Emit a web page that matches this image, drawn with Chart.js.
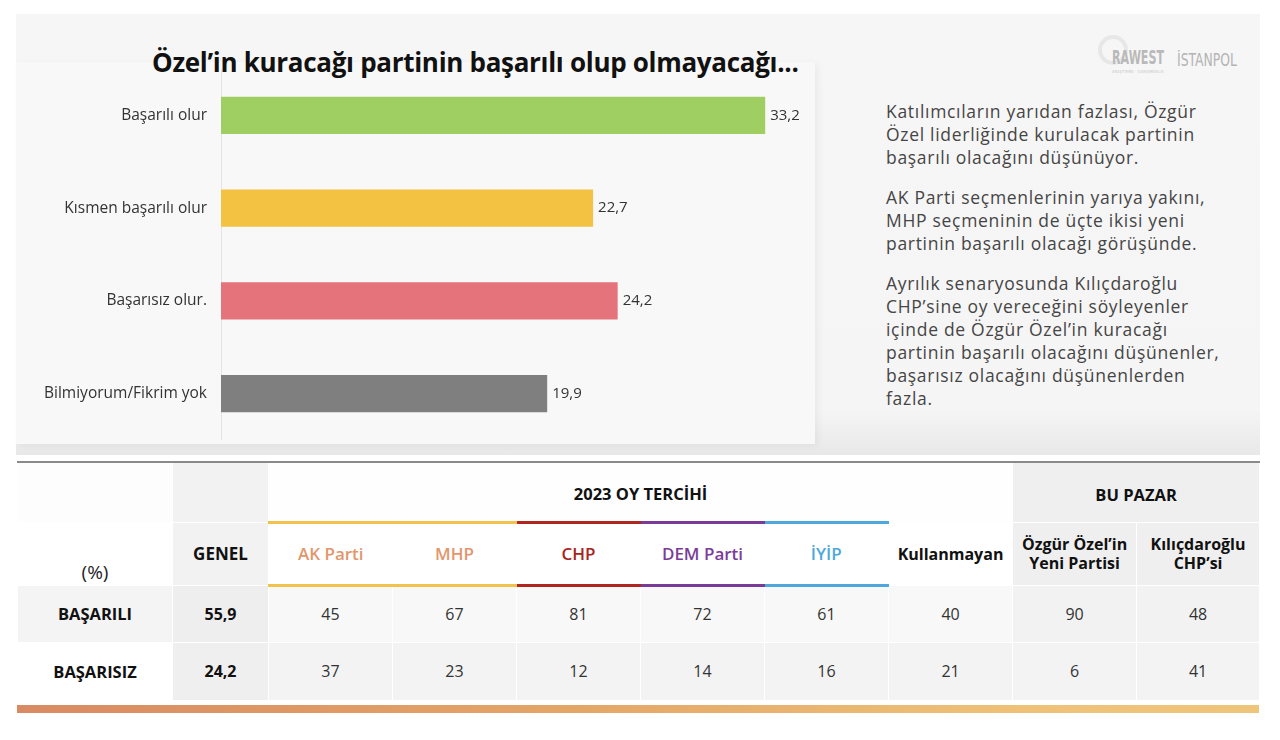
<!DOCTYPE html>
<html lang="tr">
<head>
<meta charset="utf-8">
<script src="https://cdn.jsdelivr.net/npm/chart.js@4.4.1/dist/chart.umd.min.js"></script>
<style>
  html, body { margin:0; padding:0; background:#ffffff; }
  body { width:1280px; height:740px; position:relative; overflow:hidden; font-family: "Open Sans", Lato, sans-serif; color:#222; }
  #panel { position:absolute; left:16px; top:14px; width:1244px; height:441px;
           background: linear-gradient(to bottom, #f7f6f6 0%, #f6f5f5 90%, #e9e8e8 100%); }
  #card { position:absolute; left:16px; top:62px; width:799px; height:382px; background:#f9f8f8;
          box-shadow: 3px 2px 7px rgba(0,0,0,0.05); }
  #title { position:absolute; left:152px; top:44px; font-size:26px; font-weight:700; color:#111; white-space:nowrap; letter-spacing:-0.3px; }
  #chartWrap { position:absolute; left:16px; top:69px; width:800px; height:371px; }
  #notes { position:absolute; left:886px; top:100px; width:390px; font-size:17.5px; line-height:23px; color:#454545; letter-spacing:0.7px; white-space:nowrap; }
  #notes p { margin:0 0 17px 0; }
  .logo { position:absolute; white-space:nowrap; transform-origin:left top; font-family:"DejaVu Sans", sans-serif; }
  #logo1 { left:1112px; top:45px; font-size:20px; font-weight:700; color:#b9b9b9; }
  #logo1sub { left:1112px; top:69px; font-size:4px; color:#c6c6c6; letter-spacing:0.3px; }
  #ring { position:absolute; left:1098px; top:35px; width:22px; height:22px; border:4px solid #e7e7e7; border-radius:50%; }
  #logo2 { left:1177px; top:49px; font-size:18px; font-weight:400; color:#b3b3b3; }
  #tbl { position:absolute; left:17px; top:461px; width:1242px; border-collapse:collapse; table-layout:fixed;
         border:1px solid #5c5c5c; border-top:2px solid #8a8a8a; }
  #tbl td { padding:0; text-align:center; vertical-align:middle; border:1px solid #ffffff; font-size:16px; color:#333; }
  #tbl td.b { font-weight:700; color:#111; }
  #strip { position:absolute; left:17px; top:705px; width:1242px; height:8px;
           background: linear-gradient(to right, #d98a62 0%, #e4a667 45%, #eec177 80%, #efc57a 100%); }
</style>
</head>
<body>
<div id="panel"></div>
<div id="card"></div>
<div id="title"></div>
<div id="chartWrap"><canvas id="c" width="800" height="371"></canvas></div>
<div id="ring"></div>
<div id="logo1" class="logo">RAWEST</div>
<div id="logo1sub" class="logo">ARAŞTIRMA · DANIŞMANLIK</div>
<div id="logo2" class="logo">İSTANPOL</div>
<div id="notes"></div>
<table id="tbl"></table>
<div id="strip"></div>

<script>
// ---------- Chart data ----------
const chartTitle = "Özel’in kuracağı partinin başarılı olup olmayacağı...";
const categories = ["Başarılı olur", "Kısmen başarılı olur", "Başarısız olur.", "Bilmiyorum/Fikrim yok"];
const values = [33.2, 22.7, 24.2, 19.9];
const barColors = ["#9fcf62", "#f3c243", "#e5737b", "#7f7f7f"];

// ---------- Notes ----------
const notes = [
  "Katılımcıların yarıdan fazlası, Özgür<br>Özel liderliğinde kurulacak partinin<br>başarılı olacağını düşünüyor.",
  "AK Parti seçmenlerinin yarıya yakını,<br>MHP seçmeninin de üçte ikisi yeni<br>partinin başarılı olacağı görüşünde.",
  "Ayrılık senaryosunda Kılıçdaroğlu<br>CHP’sine oy vereceğini söyleyenler<br>içinde de Özgür Özel’in kuracağı<br>partinin başarılı olacağını düşünenler,<br>başarısız olacağını düşünenlerden<br>fazla."
];

// ---------- Table data ----------
const groupHeader = "2023 OY TERCİHİ";
const groupHeader2 = "BU PAZAR";
const unitLabel = "(%)";
const generalLabel = "GENEL";
const partyCols = ["AK Parti", "MHP", "CHP", "DEM Parti", "İYİP"];
const partyColors = ["#e3966c", "#e3966c", "#a9231c", "#7b3c99", "#4ea8dc"];
const partyLineColors = ["#f2c14e", "#f2c14e", "#b0261e", "#7a3a9a", "#4fa8db"];
const otherCol = "Kullanmayan";
const pazarCols = ["Özgür Özel’in<br>Yeni Partisi", "Kılıçdaroğlu<br>CHP’si"];
const rowLabels = ["BAŞARILI", "BAŞARISIZ"];
const generalValues = ["55,9", "24,2"];
const basariliRow = [45, 67, 81, 72, 61, 40, 90, 48];
const basarisizRow = [37, 23, 12, 14, 16, 21, 6, 41];

// ---------- Build text ----------
document.getElementById("title").textContent = chartTitle;
document.getElementById("notes").innerHTML = notes.map(n => "<p>" + n + "</p>").join("");

function fitWidth(id, w) {
  const el = document.getElementById(id);
  const cur = el.getBoundingClientRect().width;
  el.style.transform = "scaleX(" + (w / cur) + ")";
}
fitWidth("logo1", 52);
fitWidth("logo1sub", 52);
fitWidth("logo2", 60);

// ---------- Build table ----------
(function buildTable(){
  const colW = [155, 96, 124, 124, 124, 124, 124, 124, 124, 123];
  const t = document.getElementById("tbl");
  let h = "<colgroup>" + colW.map(w => `<col style="width:${w}px">`).join("") + "</colgroup>";
  h += `<tr style="height:60px">
    <td style="background:#fdfdfd"></td>
    <td style="background:#f2f2f2"></td>
    <td colspan="6" class="b" style="background:#fefefe;font-size:16.5px;padding-top:4px">${groupHeader}</td>
    <td colspan="2" class="b" style="background:#efefef;font-size:16.5px;padding-top:4px">${groupHeader2}</td>
  </tr>`;
  h += `<tr style="height:63px"><td style="background:#ffffff;font-size:19px;color:#222;vertical-align:bottom;padding-bottom:0px">${unitLabel}</td>`;
  h += `<td class="b" style="background:#f2f2f2;font-size:17px">${generalLabel}</td>`;
  partyCols.forEach((p,i) => {
    h += `<td style="background:#fff;font-size:17px;font-weight:600;color:${partyColors[i]};border-top:3px solid ${partyLineColors[i]};border-bottom:3px solid ${partyLineColors[i]};border-left:none;border-right:none">${p}</td>`;
  });
  h += `<td class="b" style="background:#fff">${otherCol}</td>`;
  pazarCols.forEach(p => { h += `<td class="b" style="background:#efefef;line-height:19px">${p}</td>`; });
  h += "</tr>";
  const rows = [basariliRow, basarisizRow];
  const bgs = [
    {lab:"#f4f4f4", gen:"#eeeeee", mid:"#f8f8f8", paz:"#f2f2f2"},
    {lab:"#ffffff", gen:"#efefef", mid:"#f3f3f3", paz:"#f3f3f3"}
  ];
  rows.forEach((r, ri) => {
    const bg = bgs[ri];
    h += `<tr style="height:${ri===0?57:58}px">`;
    h += `<td class="b" style="background:${bg.lab};font-size:16.5px">${rowLabels[ri]}</td>`;
    h += `<td class="b" style="background:${bg.gen};font-size:16px">${generalValues[ri]}</td>`;
    r.forEach((v, ci) => {
      const c = ci >= 6 ? bg.paz : bg.mid;
      h += `<td style="background:${c}">${v}</td>`;
    });
    h += "</tr>";
  });
  t.innerHTML = h;
})();

// ---------- Chart ----------
const valueLabels = {
  id: "valueLabels",
  afterDatasetsDraw(chart) {
    const ctx = chart.ctx;
    const meta = chart.getDatasetMeta(0);
    ctx.save();
    ctx.font = "15px 'Open Sans', sans-serif";
    ctx.fillStyle = "#333";
    ctx.textAlign = "left";
    ctx.textBaseline = "middle";
    meta.data.forEach((bar, i) => {
      const txt = values[i].toFixed(1).replace(".", ",");
      ctx.fillText(txt, bar.x + 5, bar.y);
    });
    ctx.restore();
  }
};

new Chart(document.getElementById("c"), {
  type: "bar",
  data: {
    labels: categories,
    datasets: [{
      data: values,
      backgroundColor: barColors,
      borderWidth: 0,
      barPercentage: 0.4,
      categoryPercentage: 1.0
    }]
  },
  options: {
    indexAxis: "y",
    responsive: false,
    animation: false,
    devicePixelRatio: 1,
    layout: { padding: 0, autoPadding: false },
    plugins: { legend: { display: false }, tooltip: { enabled: false } },
    scales: {
      x: { display: false, min: 0, max: 36.3 },
      y: {
        grid: { display: false, drawTicks: false },
        border: { display: true, color: "#e4e4e4", width: 1 },
        ticks: { color: "#333", font: { family: "Open Sans", size: 15.5 }, padding: 14 },
        afterFit(scale) { scale.width = 205; scale.paddingTop = 0; scale.paddingBottom = 0; }
      }
    }
  },
  plugins: [valueLabels]
});
</script>
</body>
</html>
